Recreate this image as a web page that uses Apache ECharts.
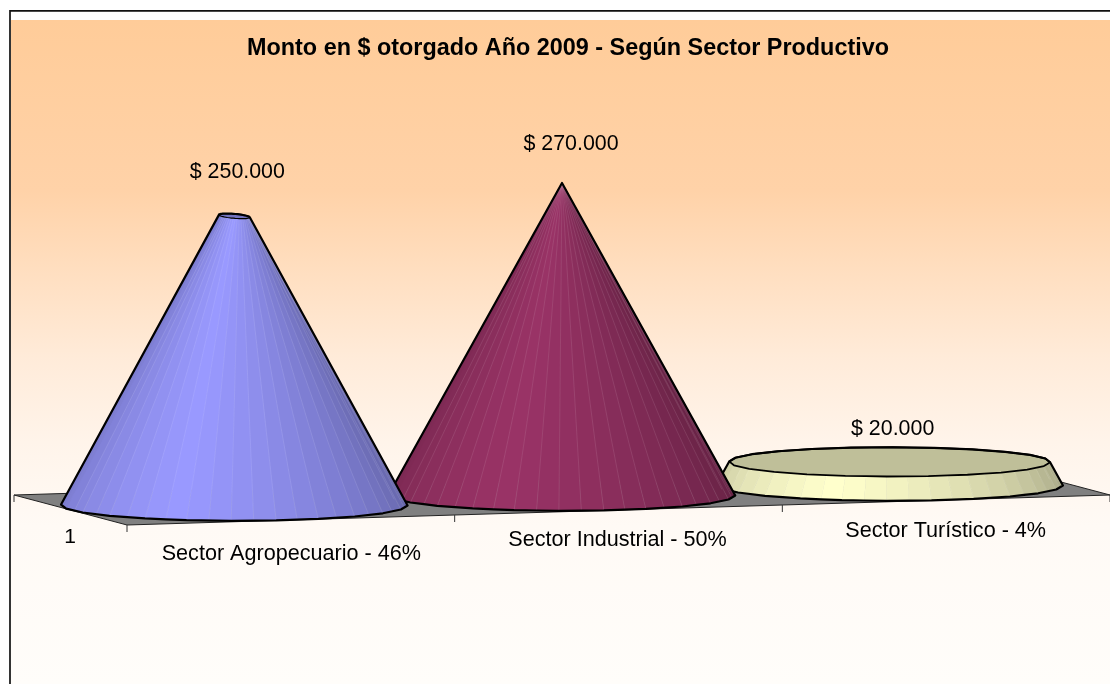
<!DOCTYPE html>
<html><head><meta charset="utf-8">
<style>html,body{margin:0;padding:0;background:#fff}#c{width:1110px;height:684px}</style>
<script src="https://cdn.jsdelivr.net/npm/echarts@6/dist/echarts.min.js"></script>
</head><body><div id="c"></div>
<script>
const categories = ['Sector Agropecuario - 46%', 'Sector Industrial - 50%', 'Sector Turístico - 4%'];
const montos = [250000, 270000, 20000];
const valueLabels = ['$ 250.000', '$ 270.000', '$ 20.000'];
const seriesLabel = '1';
const titleText = 'Monto en $ otorgado Año 2009 - Según Sector Productivo';

const FONT = '"Liberation Sans", Arial, sans-serif';
const palette = [[153,153,255],[153,51,102],[255,255,204]];
const valueLabelOffset = [[3,-44],[9,-39],[3,-33]];
const catLabelOffset = [[57,49],[55.5,45],[56,46]];
const COARSE = 24, SUB = 2, TILT = -30/983, DEPTH = [56.5,15], LIGHT = -0.33, FRONT_ANGLE = Math.PI/2 + 0.35;
const MIN_CAP_DEPTH = 0.17;

const GRID = {left:70.5, top:183, width:983, height:312};
const midX = GRID.left + GRID.width/2;
const tiltY = x => TILT*(x-midX);
const apexValue = Math.max(...montos);

function hull(pts){
  const p = pts.slice().sort((a,b)=>a[0]-b[0]||a[1]-b[1]);
  const cr=(o,a,b)=>(a[0]-o[0])*(b[1]-o[1])-(a[1]-o[1])*(b[0]-o[0]);
  const lo=[],up=[];
  for(const q of p){while(lo.length>1&&cr(lo[lo.length-2],lo[lo.length-1],q)<=0)lo.pop();lo.push(q);}
  for(const q of p.slice().reverse()){while(up.length>1&&cr(up[up.length-2],up[up.length-1],q)<=0)up.pop();up.push(q);}
  lo.pop();up.pop();return lo.concat(up);
}
const shadeColor=(c,s)=>`rgb(${c.map(v=>Math.round(v*s)).join(',')})`;

function ring(c,r,u){
  const rd = r>0 ? Math.max(r,MIN_CAP_DEPTH) : 0;
  const out=[];
  const corner=k=>{const a=FRONT_ANGLE+k*2*Math.PI/COARSE;
    return [c[0]+r*Math.cos(a)*u[0]+rd*Math.sin(a)*DEPTH[0], c[1]+r*Math.cos(a)*u[1]+rd*Math.sin(a)*DEPTH[1]];};
  for(let k=0;k<COARSE;k++){
    const A=corner(k),B=corner(k+1);
    for(let s=0;s<SUB;s++) out.push([A[0]+(B[0]-A[0])*s/SUB,A[1]+(B[1]-A[1])*s/SUB]);
  }
  return out;
}

function renderCone(params, api){
  const i = api.value(0), v = api.value(1);
  const z = 10 + (categories.length - i)*10;
  const base = api.coord([i,0]), top = api.coord([i,v]);
  const dy = tiltY(base[0]);
  const c0 = [base[0], base[1]+dy], c1 = [top[0], top[1]+dy];
  const hw = api.size([1,0])[0]/2;
  const u = [hw, TILT*hw];
  const rTop = 1 - v/apexValue;
  const ext = Math.hypot(u[0],DEPTH[0]);
  const bp=ring(c0,1,u), tp=ring(c1,rTop,u), N=bp.length;
  const col = palette[i], kids=[], faces=[];
  for(let k=0;k<N;k++){
    const n=(k+1)%N;
    const mx=(bp[k][0]+bp[n][0])/2-c0[0], my=(bp[k][1]+bp[n][1])/2-c0[1];
    const a=FRONT_ANGLE+(k+.5)*2*Math.PI/N;
    faces.push({k,depth:my,front:Math.sin(a)>-0.1,p:mx/ext});
  }
  faces.sort((a,b)=>a.depth-b.depth);
  const phi0 = Math.asin(LIGHT);
  for(const f of faces){
    const n=(f.k+1)%N;
    const diff=Math.abs(Math.asin(Math.max(-1,Math.min(1,f.p)))-phi0);
    const s=1-0.36*Math.pow(diff/1.9,1.2);
    kids.push({type:'polygon',z2:z,shape:{points:[bp[f.k],bp[n],tp[n],tp[f.k]]},
      style:{fill:shadeColor(col,s),stroke:shadeColor(col,s),lineWidth:.5},silent:true});
  }
  for(const f of faces){
    if(!f.front) continue;
    kids.push({type:'line',z2:z+1,shape:{x1:bp[f.k][0],y1:bp[f.k][1],x2:tp[f.k][0],y2:tp[f.k][1]},
      style:{stroke:'rgba(255,255,255,0.2)',lineWidth:.5},silent:true});
  }
  if(rTop>0){
    kids.push({type:'polygon',z2:z+2,shape:{points:tp},
      style:{fill:shadeColor(col,.75),stroke:'#000',lineWidth:rTop<.2?1.2:1.8,lineJoin:'round'},silent:true});
  }
  kids.push({type:'polygon',z2:z+3,shape:{points:hull(bp.concat(tp))},
    style:{fill:'none',stroke:'#000',lineWidth:2.2,lineJoin:'round'},silent:true});
  kids.push({type:'text',z2:100,style:{text:valueLabels[i],
    x:c1[0]+valueLabelOffset[i][0],y:c1[1]+valueLabelOffset[i][1],
    align:'center',verticalAlign:'middle',font:'21.4px '+FONT,fill:'#000'}});
  kids.push({type:'text',z2:100,style:{text:categories[i],
    x:c0[0]+catLabelOffset[i][0],y:c0[1]+catLabelOffset[i][1],
    align:'center',verticalAlign:'middle',font:'21.6px '+FONT,fill:'#000'}});
  return {type:'group',children:kids};
}

function renderFloor(params, api){
  const cs = params.coordSys;
  const l=cs.x, r=cs.x+cs.width, y0=cs.y+cs.height;
  const cl=[l,y0+tiltY(l)], cr=[r,y0+tiltY(r)];
  const a=(c,s)=>[c[0]+s*DEPTH[0],c[1]+s*DEPTH[1]];
  const kids=[{type:'polygon',shape:{points:[a(cl,-1),a(cr,-1),a(cr,1),a(cl,1)]},
    style:{fill:'#808080',stroke:'#222',lineWidth:1},silent:true}];
  const tick=(p)=>kids.push({type:'line',shape:{x1:p[0],y1:p[1],x2:p[0],y2:p[1]+7},style:{stroke:'#333',lineWidth:1},silent:true});
  tick(a(cl,-1));
  for(let k=0;k<=categories.length;k++){
    const x=l+cs.width*k/categories.length;
    tick(a([x,y0+tiltY(x)],1));
  }
  const f=a(cl,1);
  kids.push({type:'text',style:{text:seriesLabel,x:l-.5,y:f[1]+12,align:'center',verticalAlign:'middle',font:'21px '+FONT,fill:'#000'}});
  return {type:'group',children:kids};
}

const chart = echarts.init(document.getElementById('c'),null,{renderer:'canvas'});
chart.setOption({
  animation:false,
  backgroundColor:'#fff',
  title:{text:titleText,left:563,top:32,textAlign:'center',
    textStyle:{fontFamily:FONT,fontSize:23.4,fontWeight:'bold',color:'#000'}},
  graphic:[
    {type:'rect',z:-10,silent:true,shape:{x:11,y:20,width:1100,height:664},
     style:{fill:{type:'linear',x:0,y:0,x2:0,y2:1,colorStops:[
       {offset:0,color:'#FFCC99'},{offset:.256,color:'#FFD2A8'},{offset:.384,color:'#FFDFC1'},
       {offset:.508,color:'#FFEBD9'},{offset:.636,color:'#FFF4EA'},{offset:.762,color:'#FFFAF5'},{offset:1,color:'#FFFDFA'}]}}},
    {type:'rect',z:-9,silent:true,shape:{x:10,y:10.8,width:1110,height:700},
     style:{fill:'none',stroke:'#111',lineWidth:1.7}}
  ],
  grid:GRID,
  xAxis:{type:'category',data:categories,show:false},
  yAxis:{type:'value',min:0,max:apexValue,show:false},
  series:[
    {type:'custom',coordinateSystem:'cartesian2d',z:2,renderItem:renderFloor,data:[[0,0]],silent:true,clip:false},
    {type:'custom',coordinateSystem:'cartesian2d',z:3,renderItem:renderCone,
     data:montos.map((v,i)=>[i,v]),encode:{x:0,y:1},silent:true,clip:false}
  ]
});
</script></body></html>
